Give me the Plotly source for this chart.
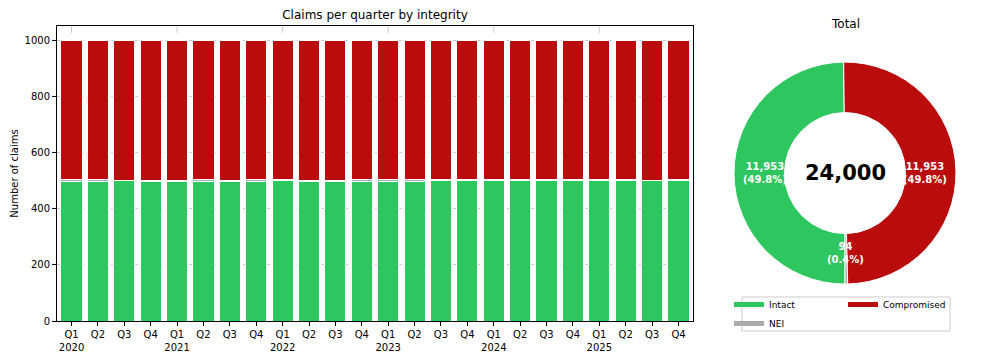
import math
import plotly.graph_objects as go

# quarters 2020 Q1 .. 2025 Q4
years = [2020, 2021, 2022, 2023, 2024, 2025]
quarter_names = ["Q1", "Q2", "Q3", "Q4"]
quarters = [f"{y} {q}" for y in years for q in quarter_names]
tick_text = [f"{q}<br>{y}" if q == "Q1" else q for y in years for q in quarter_names]

intact = [496, 495, 499, 497, 498, 496, 498, 496, 499, 498, 497, 498,
          496, 498, 499, 499, 500, 500, 499, 499, 499, 499, 499, 499]
nei = [7, 7, 2, 4, 3, 7, 3, 7, 3, 3, 3, 4,
       7, 7, 3, 3, 2, 3, 3, 3, 3, 3, 1, 3]
compromised = [497, 498, 499, 499, 499, 497, 499, 497, 498, 499, 500, 498,
               497, 495, 498, 498, 498, 497, 498, 498, 498, 498, 500, 498]

GREEN = "#2EC65E"
GREY = "#AAAAAA"
RED = "#BA0C0C"
FONT = "DejaVu Sans"

series = [("Intact", intact, GREEN), ("NEI", nei, GREY), ("Compromised", compromised, RED)]
totals = [sum(intact), sum(nei), sum(compromised)]
grand_total = sum(totals)

# page body has an 8px margin, so the figure is drawn 8px smaller
W, H = 988, 353
L, R, T, B = 49, 2, 18, 40
PW, PH = W - L - R, H - T - B

fig = go.Figure()

for name, vals, col in series:
    fig.add_trace(go.Bar(
        x=quarters, y=vals, name=name, width=0.8,
        marker=dict(color=col, line=dict(color="white", width=1)),
        showlegend=False,
    ))

pie_x = [(726 - L) / PW, (948 - L) / PW]
pie_y = [0.125, 0.878]
fig.add_trace(go.Pie(
    labels=[s[0] for s in series], values=totals,
    marker=dict(colors=[s[2] for s in series], line=dict(color="white", width=1)),
    hole=0.545, sort=False, direction="counterclockwise", rotation=180,
    domain=dict(x=pie_x, y=pie_y),
    textinfo="none", showlegend=False, hoverinfo="label+value+percent",
))

# slice labels, placed at 72% of the radius on each slice's mid angle
cx, cy = sum(pie_x) / 2, sum(pie_y) / 2
radius_px = 111 * 0.72
cum = 0
for (name, vals, col), tot in zip(series, totals):
    mid = cum + tot / 2
    cum += tot
    ang = math.pi / 2 + 2 * math.pi * mid / grand_total
    fig.add_annotation(
        text=f"<b>{tot:,}<br>({tot / grand_total:.1%})</b>",
        x=cx + radius_px * math.cos(ang) / PW, y=cy + radius_px * math.sin(ang) / PH,
        xref="paper", yref="paper", xanchor="center", yanchor="middle", showarrow=False,
        font=dict(color="white", size=10, family=FONT),
    )

# legend entries (wide patches like the reference), two columns
legend_cols = {"Intact": "legend", "NEI": "legend", "Compromised": "legend2"}
for name, vals, col in series:
    fig.add_trace(go.Scatter(
        x=[None], y=[None], mode="lines", name=name,
        line=dict(color=col, width=5), legend=legend_cols[name],
    ))

# dashed vertical grid at each year start
for i, q in enumerate(quarters):
    if q.endswith("Q1"):
        fig.add_shape(type="line", xref="x", yref="y", x0=i, x1=i, y0=0, y1=1050,
                      line=dict(color="#cccccc", width=1, dash="dash"), layer="below")

# legend frame
fig.add_shape(type="rect", xref="paper", yref="paper",
              x0=(734 - L) / PW, x1=(942 - L) / PW, y0=-0.0339, y1=0.0814,
              line=dict(color="#cccccc", width=1), fillcolor="rgba(0,0,0,0)")

fig.add_annotation(text=f"<b>{grand_total:,}</b>", x=cx, y=cy, xref="paper", yref="paper",
                   xanchor="center", yanchor="middle",
                   showarrow=False, font=dict(size=21, color="black", family=FONT))
fig.add_annotation(text="Total", x=cx, y=1.0068, xref="paper", yref="paper",
                   xanchor="center", yanchor="middle",
                   showarrow=False, font=dict(size=12, color="black", family=FONT))

legend_common = dict(
    orientation="v", yanchor="top", y=0.105, xanchor="left", traceorder="normal",
    itemwidth=30, tracegroupgap=0, bgcolor="rgba(0,0,0,0)", borderwidth=0,
    font=dict(size=9, family=FONT),
)

fig.update_layout(
    width=W, height=H,
    margin=dict(l=L, r=R, t=T, b=B),
    paper_bgcolor="white", plot_bgcolor="white",
    font=dict(family=FONT, size=10, color="black"),
    barmode="stack", bargap=0.2,
    title=dict(text="Claims per quarter by integrity", x=367 / W, xref="container",
               xanchor="center", y=1 - 7 / H, yanchor="middle",
               font=dict(size=12, family=FONT, color="black")),
    xaxis=dict(
        domain=[0, (685 - L) / PW], range=[-0.55, 23.55],
        tickmode="array", tickvals=quarters, ticktext=tick_text, tickangle=0,
        ticks="outside", ticklen=4, tickcolor="black",
        showline=True, linecolor="black", linewidth=1, mirror=True,
        showgrid=False, zeroline=False, automargin=False,
    ),
    yaxis=dict(
        range=[0, 1050], tickvals=[0, 200, 400, 600, 800, 1000],
        ticks="outside", ticklen=4, tickcolor="black",
        showline=True, linecolor="black", linewidth=1, mirror=True,
        showgrid=True, gridcolor="#cccccc", griddash="dot", gridwidth=1,
        zeroline=False, automargin=False,
        title=dict(text="Number of claims", font=dict(size=10), standoff=4),
    ),
    legend=dict(x=(721 - L) / PW, **legend_common),
    legend2=dict(x=(835 - L) / PW, **legend_common),
)

fig.write_html("out.html")
